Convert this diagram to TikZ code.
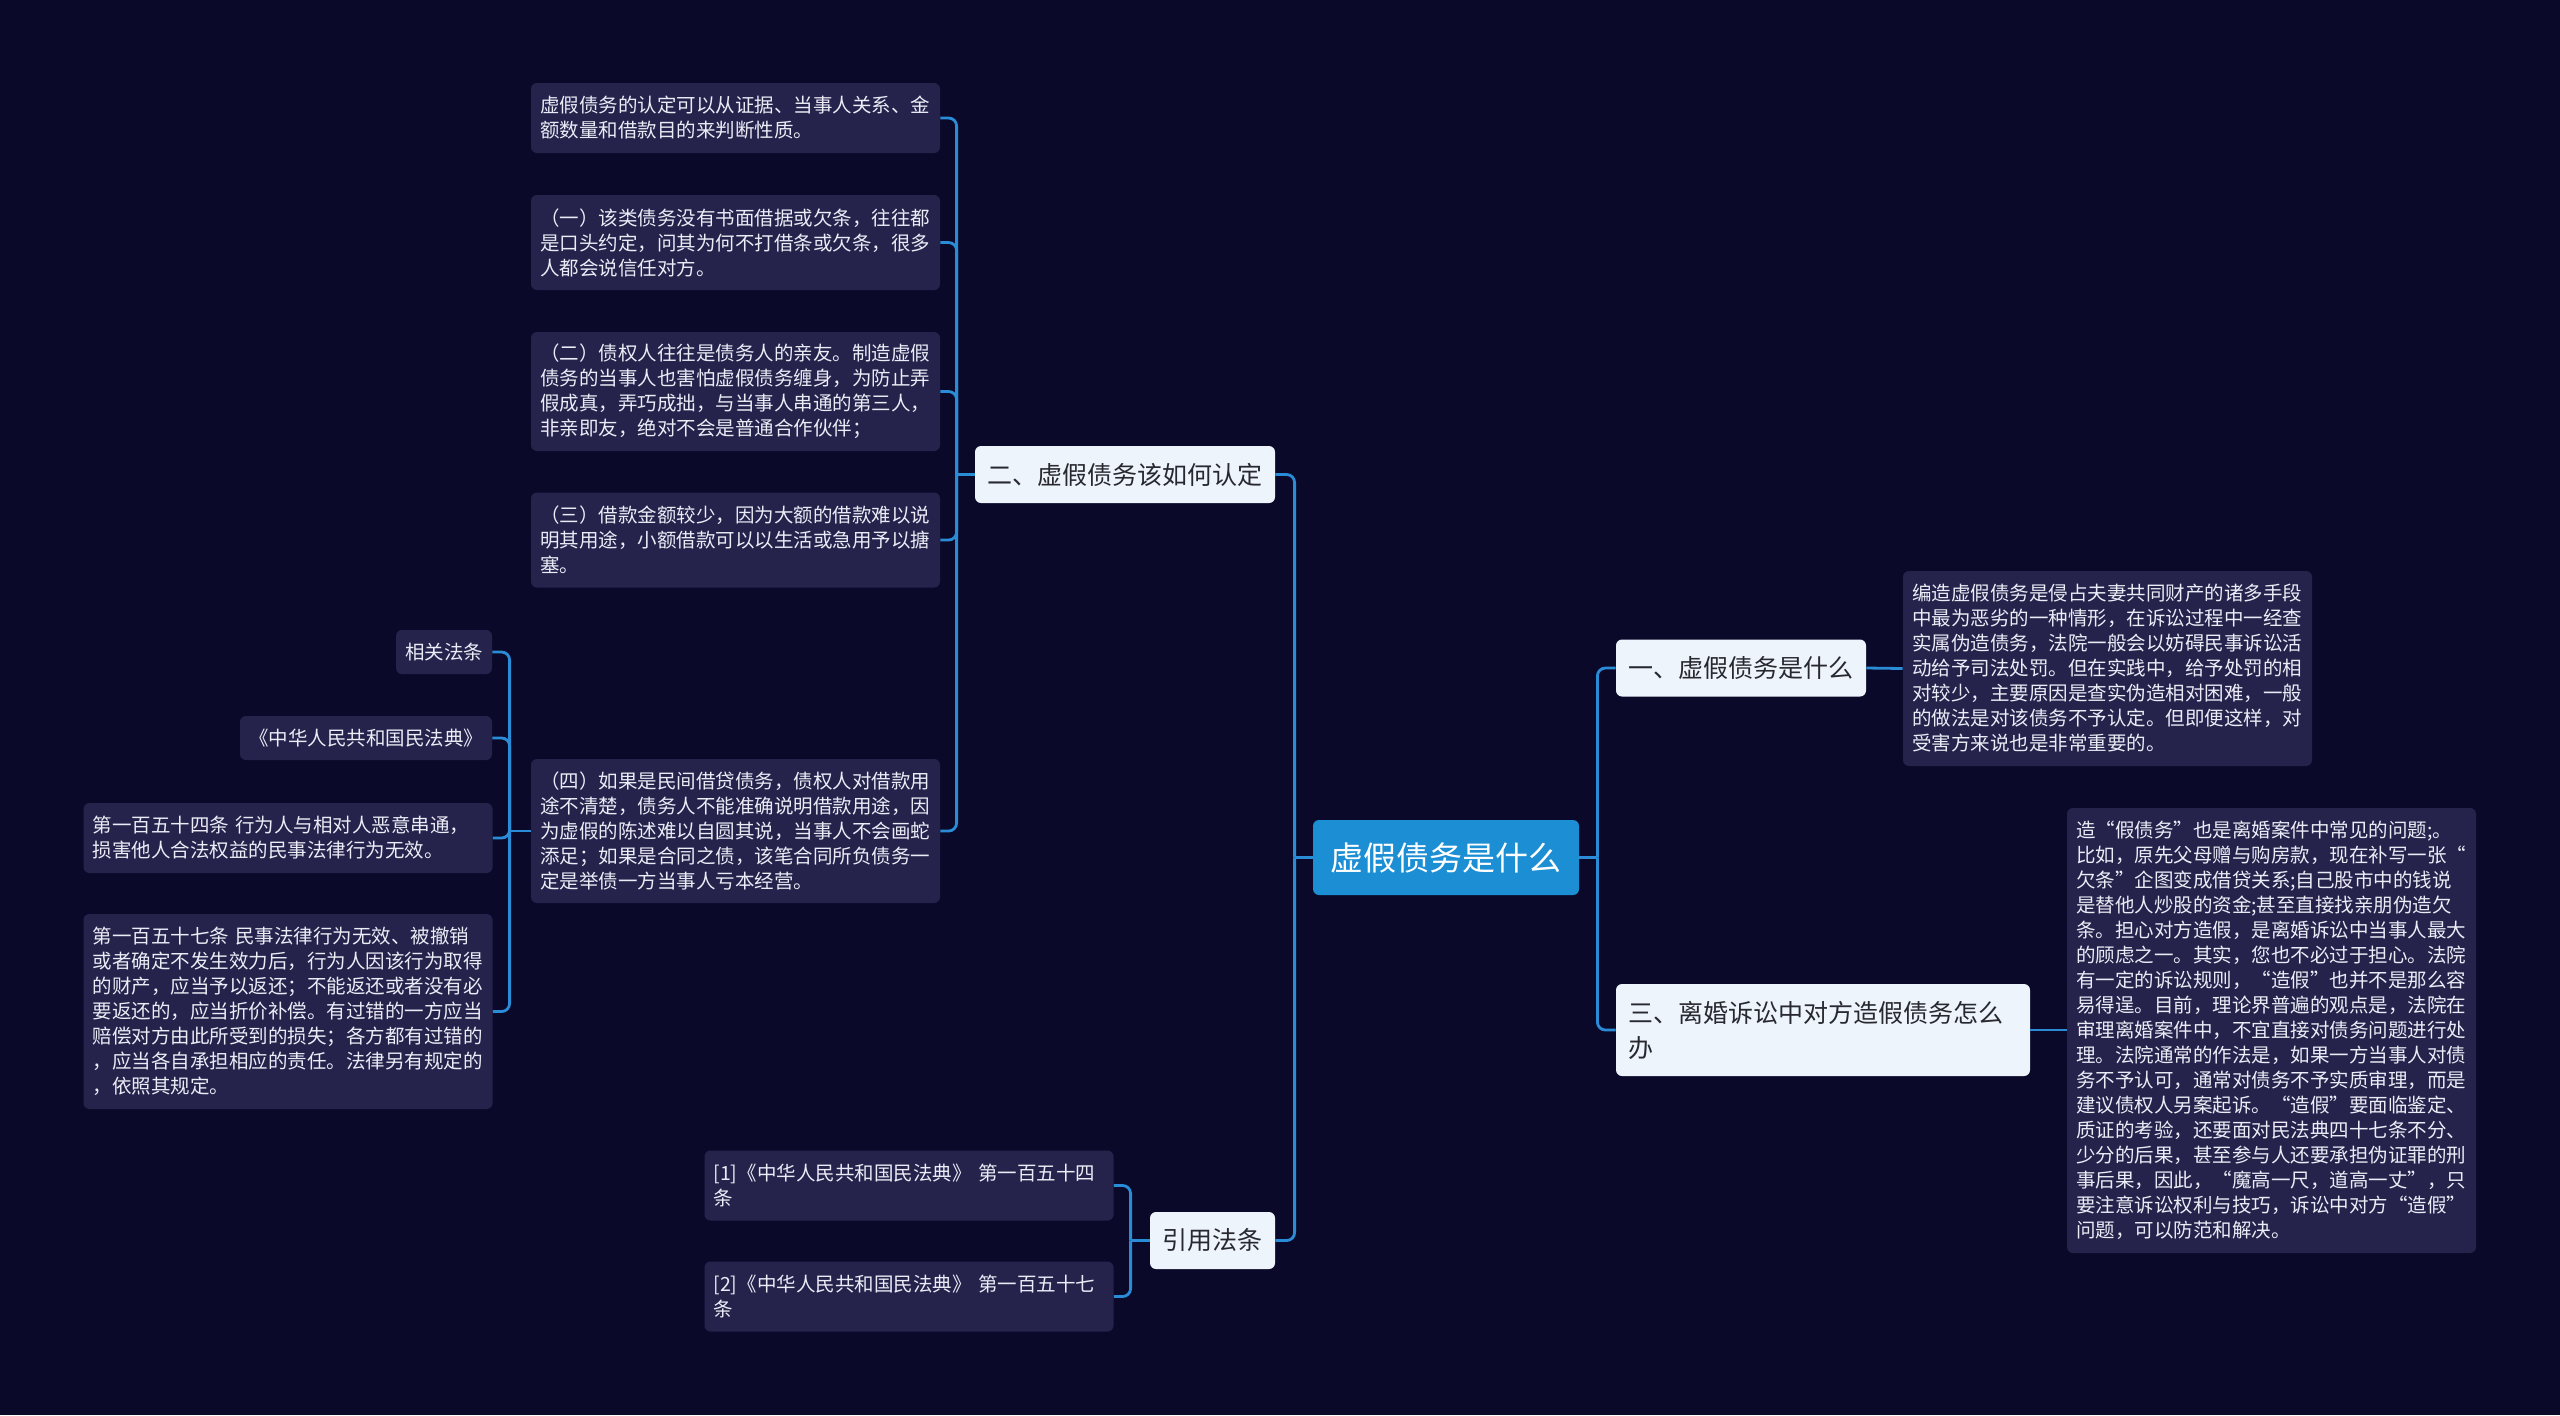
\documentclass[tikz,border=0pt]{standalone}
\usepackage{fontspec}
\setmainfont{Noto Sans CJK SC}
\usetikzlibrary{calc}
\definecolor{bgc}{RGB}{11,9,42}
\definecolor{leafc}{RGB}{37,35,76}
\definecolor{leaftxt}{RGB}{236,236,246}
\definecolor{mainc}{RGB}{238,244,252}
\definecolor{maintxt}{RGB}{40,40,48}
\definecolor{rootc}{RGB}{28,142,212}
\definecolor{linec}{RGB}{42,140,214}
\begin{document}
\begin{tikzpicture}[x=0.5pt,y=-0.5pt,
  conn/.style={draw=linec, line width=1.4pt, rounded corners=4pt},
  leaf/.style={fill=leafc, rounded corners=3pt, text=leaftxt,
    font=\fontsize{9.75pt}{12.5pt}\selectfont, align=left,
    inner xsep=4.5pt, inner ysep=0pt, text width=195.5pt, minimum height=#1},
  sleaf/.style={fill=leafc, rounded corners=3pt, text=leaftxt,
    font=\fontsize{9.75pt}{12.5pt}\selectfont, inner sep=0pt,
    minimum width=#1, minimum height=22pt},
  mainn/.style={fill=mainc, rounded corners=3pt, text=maintxt,
    font=\fontsize{12.5pt}{17.5pt}\selectfont, inner sep=0pt,
    minimum width=#1, minimum height=28.5pt},
  rootn/.style={fill=rootc, rounded corners=3pt, text=white,
    font=\fontsize{16.5pt}{20pt}\selectfont, inner sep=0pt,
    minimum width=133pt, minimum height=37.5pt}
]
\useasboundingbox (0,0) rectangle (2560,1415);
\fill[bgc] (0,0) rectangle (2560,1415);

% root and main topics
\node[rootn] (root) at (1446,857.5) {虚假债务是什么};
\node[mainn=150pt] (n2) at (1125,474.5) {二、虚假债务该如何认定};
\node[mainn=125pt] (n1) at (1741,668) {一、虚假债务是什么};
\node[fill=mainc, rounded corners=3pt, text=maintxt,
  font=\fontsize{12.5pt}{17.5pt}\selectfont, align=left,
  inner xsep=6pt, inner ysep=0pt, text width=195pt, minimum height=46pt]
  (n3) at (1823,1030) {三、离婚诉讼中对方造假债务怎么\\办};
\node[mainn=62.5pt] (nref) at (1212.5,1240.5) {引用法条};

% leaves of 二
\node[leaf=35pt] (l1) at (735.5,118) {虚假债务的认定可以从证据、当事人关系、金\\额数量和借款目的来判断性质。};
\node[leaf=47.5pt] (l2) at (735.5,242.5) {（一）该类债务没有书面借据或欠条，往往都\\是口头约定，问其为何不打借条或欠条，很多\\人都会说信任对方。};
\node[leaf=59.5pt] (l3) at (735.5,391.5) {（二）债权人往往是债务人的亲友。制造虚假\\债务的当事人也害怕虚假债务缠身，为防止弄\\假成真，弄巧成拙，与当事人串通的第三人，\\非亲即友，绝对不会是普通合作伙伴；};
\node[leaf=47.5pt] (l4) at (735.5,540) {（三）借款金额较少，因为大额的借款难以说\\明其用途，小额借款可以以生活或急用予以搪\\塞。};
\node[leaf=72pt] (l5) at (735.5,831) {（四）如果是民间借贷债务，债权人对借款用\\途不清楚，债务人不能准确说明借款用途，因\\为虚假的陈述难以自圆其说，当事人不会画蛇\\添足；如果是合同之债，该笔合同所负债务一\\定是举债一方当事人亏本经营。};

% children of (四)
\node[sleaf=48pt] (s1) at (444,652) {相关法条};
\node[sleaf=126pt] (s2) at (366,738) {《中华人民共和国民法典》};
\node[leaf=35pt] (s3) at (288,838) {第一百五十四条 行为人与相对人恶意串通，\\损害他人合法权益的民事法律行为无效。};
\node[leaf=97.5pt] (s4) at (288,1011.5) {第一百五十七条 民事法律行为无效、被撤销\\或者确定不发生效力后，行为人因该行为取得\\的财产，应当予以返还；不能返还或者没有必\\要返还的，应当折价补偿。有过错的一方应当\\赔偿对方由此所受到的损失；各方都有过错的\\，应当各自承担相应的责任。法律另有规定的\\，依照其规定。};

% right leaves
\node[leaf=97.5pt] (r1) at (2107.5,668.5) {编造虚假债务是侵占夫妻共同财产的诸多手段\\中最为恶劣的一种情形，在诉讼过程中一经查\\实属伪造债务，法院一般会以妨碍民事诉讼活\\动给予司法处罚。但在实践中，给予处罚的相\\对较少，主要原因是查实伪造相对困难，一般\\的做法是对该债务不予认定。但即便这样，对\\受害方来说也是非常重要的。};
\node[leaf=222.5pt] (r3) at (2271.5,1030.5) {造“假债务”也是离婚案件中常见的问题;。\\比如，原先父母赠与购房款，现在补写一张“\\欠条”企图变成借贷关系;自己股市中的钱说\\是替他人炒股的资金;甚至直接找亲朋伪造欠\\条。担心对方造假，是离婚诉讼中当事人最大\\的顾虑之一。其实，您也不必过于担心。法院\\有一定的诉讼规则，“造假”也并不是那么容\\易得逞。目前，理论界普遍的观点是，法院在\\审理离婚案件中，不宜直接对债务问题进行处\\理。法院通常的作法是，如果一方当事人对债\\务不予认可，通常对债务不予实质审理，而是\\建议债权人另案起诉。“造假”要面临鉴定、\\质证的考验，还要面对民法典四十七条不分、\\少分的后果，甚至参与人还要承担伪证罪的刑\\事后果，因此，“魔高一尺，道高一丈”，只\\要注意诉讼权利与技巧，诉讼中对方“造假”\\问题，可以防范和解决。};

% reference leaves
\node[leaf=35pt] (f1) at (909,1185.5) {[1]《中华人民共和国民法典》 第一百五十四\\条};
\node[leaf=35pt] (f2) at (909,1296.5) {[2]《中华人民共和国民法典》 第一百五十七\\条};

% junctions
\coordinate (jL) at ($(root.west)+(-18,0)$);
\coordinate (jR) at ($(root.east)+(18,0)$);
\coordinate (j2) at ($(n2.west)+(-18,0)$);
\coordinate (j5) at ($(l5.west)+(-21,0)$);
\coordinate (jf) at ($(nref.west)+(-19,0)$);

% connectors
\draw[conn] (root.west) -- (jL);
\draw[conn] (jL) |- (n2.east);
\draw[conn] (jL) |- (nref.east);
\draw[conn] (root.east) -- (jR);
\draw[conn] (jR) |- (n1.west);
\draw[conn] (jR) |- (n3.west);
\draw[conn] (n1.east) -- (r1.west);
\draw[conn] (n3.east) -- (r3.west |- n3.east);
\draw[conn] (n2.west) -- (j2);
\foreach \c in {l1,l2,l3,l4,l5} \draw[conn] (j2) |- (\c.east);
\draw[conn] (l5.west) -- (j5);
\foreach \c in {s1,s2,s3,s4} \draw[conn] (j5) |- (\c.east);
\draw[conn] (nref.west) -- (jf);
\foreach \c in {f1,f2} \draw[conn] (jf) |- (\c.east);
\end{tikzpicture}
\end{document}
